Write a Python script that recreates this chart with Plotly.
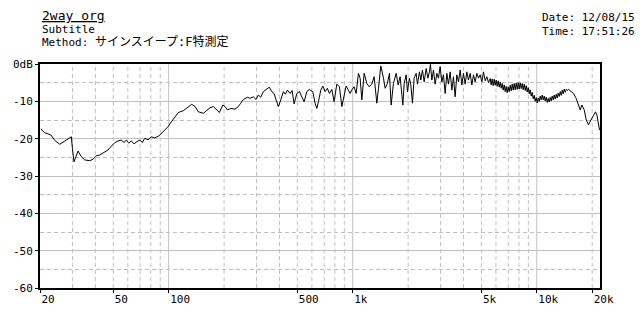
import plotly.graph_objects as go
import numpy as np

title = "2way org"
subtitle = "Subtitle"
method_label = "Method: "
method_value = "サインスイープ:F特測定"
date_txt = "Date: 12/08/15"
time_txt = "Time: 17:51:26"

# frequency response (Hz, dB)
freq_low = [20.2, 21.2, 22.9, 24.0, 25.6, 27.3, 29.6, 30.0, 30.6, 32.2, 33.5, 35.0, 37.3, 38.8,
            40.5, 42.2, 44.9, 46.9, 48.8, 50.9, 53.1, 55.3, 57.2, 58.9, 60.7, 62.7, 64.9, 67.1,
            69.7, 72.0, 74.2, 77.3, 80.5, 84.0, 88.3, 93.2, 99.2, 103.4, 108.8]
db_low = [-17.4, -18.4, -19.0, -20.4, -21.5, -20.6, -19.5, -22.6, -26.2, -23.3, -24.8, -25.7, -25.9, -25.5,
          -24.6, -24.4, -23.5, -23.0, -22.0, -21.1, -20.6, -20.4, -21.0, -20.4, -21.2, -20.6, -21.4, -20.8,
          -20.4, -21.0, -19.9, -20.3, -19.5, -19.8, -19.3, -18.1, -16.8, -15.5, -13.9]

freq_mid = [112.9, 120.2, 128.0, 133.5, 139.1, 145.0, 154.4, 161.1, 167.9, 175.0, 182.6, 188.6, 196.8,
            202.5, 208.4, 217.5, 229.6, 239.2, 246.5, 254.7, 267.8, 276.9, 288.5, 298.5, 307.2, 316.6,
            327.0, 341.2, 352.5, 363.2, 373.9, 383.4, 394.6, 406.6, 420.1, 430.7, 441.6, 456.8, 468.4,
            480.3, 496.9, 513.3, 529.0, 544.5, 563.0, 581.5, 586.7, 606.8, 624.6, 638.0, 650.9, 670.8,
            687.8, 707.9, 728.5, 747.0, 770.0, 792.4, 819.6, 846.6, 872.6, 898.1, 920.8, 947.6, 968.0,
            992.5, 1017.6, 1043.5, 1074, 1097, 1121, 1154, 1193, 1228, 1270, 1307, 1352, 1380, 1421,
            1469, 1500, 1544, 1583, 1617, 1664, 1722, 1765, 1810]
db_mid = [-13.0, -12.5, -11.4, -10.8, -11.4, -12.8, -13.2, -12.3, -11.7, -11.4, -12.3, -13.0, -11.0,
          -11.4, -12.3, -11.9, -12.1, -11.4, -10.5, -9.5, -8.9, -9.2, -8.8, -9.5, -8.3, -8.9,
          -7.4, -6.8, -6.2, -7.4, -7.9, -9.6, -11.4, -9.6, -7.4, -8.1, -7.0, -7.9, -7.1,
          -10.7, -7.9, -7.4, -8.8, -10.1, -7.4, -6.8, -7.0, -7.4, -10.5, -11.9, -10.1, -7.0,
          -5.9, -7.4, -6.5, -7.9, -6.8, -10.1, -5.4, -6.1, -11.4, -7.9, -5.9, -7.0, -7.9,
          -6.8, -6.1, -7.9, -2.5, -3.8, -9.6, -2.5, -5.2, -6.1, -5.4, -3.4, -10.5, -6.5, -0.5,
          -3.8, -6.5, -5.2, -2.5, -11.0, -5.2, -2.5, -5.6, -3.4]

freq_hi = [1849, 1872, 1903, 1951, 1983, 2033, 2069, 2111, 2156, 2211, 2247, 2304, 2345, 2392, 2444,
           2506, 2560, 2611, 2644, 2691, 2746, 2805, 2865, 2923, 2985, 3050, 3111, 3178, 3246, 3312,
           3383, 3456, 3526, 3601, 3679, 3754, 3834, 3916, 3996, 4082, 4169, 4254, 4345, 4439, 4529,
           4626, 4726, 4822, 4925, 5031, 5133, 5244, 5356, 5464]
db_hi = [-8.8, -11.0, -5.2, -2.9, -7.4, -3.8, -5.6, -10.5, -3.8, -2.5, -5.4, -2.1, -4.3, -1.6, -4.8,
         -1.2, -3.8, -2.1, -0.1, -4.3, -1.6, -5.4, -2.5, -3.8, -0.7, -4.8, -2.9, -7.9, -2.5, -5.4,
         -2.1, -7.0, -3.4, -8.8, -2.9, -4.8, -1.6, -5.6, -2.5, -5.4, -2.1, -4.3, -2.5, -5.6, -2.9,
         -4.8, -2.5, -3.8, -2.9, -4.8, -2.1, -4.5, -3.4, -5.0]

freq_dense = [5581, 5651, 5722, 5794, 5867, 5941, 6016, 6092, 6169, 6247, 6326, 6406, 6486, 6568,
              6651, 6735, 6820, 6906, 6993, 7081, 7170, 7260, 7351, 7444, 7538, 7633, 7729, 7826,
              7925, 8025, 8126, 8228, 8332, 8437, 8543, 8651, 8760, 8870, 8982, 9095, 9210, 9326,
              9443, 9562, 9682, 9804, 9928, 10053, 10179, 10307, 10437, 10569, 10702, 10837, 10973,
              11111, 11251, 11393, 11536, 11681, 11828, 11977, 12128, 12281, 12436, 12592, 12751,
              12911, 13074, 13239, 13405, 13574, 13745, 13918, 14093, 14271, 14450, 14632]
db_dense = [-3.9, -5.6, -4.0, -5.8, -4.1, -5.7, -4.3, -6.0, -4.5, -6.2, -4.8, -6.5, -5.2, -7.0,
            -5.6, -7.4, -6.0, -7.7, -6.1, -7.4, -5.7, -7.2, -5.4, -7.0, -5.2, -6.9, -5.1, -6.8,
            -5.0, -6.7, -5.0, -6.6, -5.2, -6.9, -5.4, -7.1, -5.8, -7.5, -6.3, -8.0, -6.9, -8.6,
            -7.6, -9.3, -8.4, -10.0, -9.0, -10.4, -9.1, -10.0, -8.6, -9.6, -8.3, -9.6, -8.6,
            -9.9, -8.9, -10.3, -9.2, -10.2, -8.9, -9.9, -8.6, -9.6, -8.3, -9.4, -8.1,
            -9.1, -7.8, -8.7, -7.4, -8.4, -7.0, -8.0, -6.7, -7.6, -6.8, -7.1]

freq_top = [14870, 15830, 16370, 16850, 17210, 17580, 18100, 18560, 19100, 19680, 20330, 20850,
            21220, 21640, 21920]
db_top = [-6.8, -7.9, -9.2, -11.0, -12.3, -11.0, -12.3, -15.0, -16.3, -15.0, -13.7, -12.8,
          -13.7, -16.8, -17.7]

freq = freq_low + freq_mid + freq_hi + freq_dense + freq_top
spl = db_low + db_mid + db_hi + db_dense + db_top

x_tick_vals = [20, 50, 100, 500, 1000, 5000, 10000, 20000]
x_tick_text = ["20", "50", "100", "500", "1k", "5k", "10k", "20k"]
y_tick_vals = [0, -10, -20, -30, -40, -50, -60]
y_tick_text = ["0dB", "-10", "-20", "-30", "-40", "-50", "-60"]
grid_major_x = [100, 1000, 10000]
grid_minor_x = [30, 40, 50, 60, 70, 80, 90, 200, 300, 400, 500, 600, 700, 800, 900,
                2000, 3000, 4000, 5000, 6000, 7000, 8000, 9000, 20000]

F_MAIN = "DejaVu Sans Mono, Noto Sans CJK JP, monospace"
GRID = "#c0c0c0"


def vlines(xs):
    X, Y = [], []
    for v in xs:
        X += [v, v, None]
        Y += [-60, 0, None]
    return X, Y


fig = go.Figure()
gx, gy = vlines(grid_minor_x)
fig.add_trace(go.Scatter(x=gx, y=gy, mode="lines", line=dict(color=GRID, width=1, dash="4px,3px"),
                         hoverinfo="skip", showlegend=False))
gx, gy = vlines(grid_major_x)
fig.add_trace(go.Scatter(x=gx, y=gy, mode="lines", line=dict(color=GRID, width=1),
                         hoverinfo="skip", showlegend=False))
fig.add_trace(go.Scatter(x=freq, y=spl, mode="lines", line=dict(color="black", width=1),
                         showlegend=False))

fig.update_layout(
    width=640, height=320,
    margin=dict(l=40, r=40, t=64, b=32),
    paper_bgcolor="white", plot_bgcolor="white",
    font=dict(family=F_MAIN, size=11, color="black"),
    xaxis=dict(type="log", range=[np.log10(20), np.log10(22050)],
               tickvals=x_tick_vals, ticktext=x_tick_text,
               ticks="outside", ticklen=3, tickcolor="black",
               ticklabelposition="outside right",
               showgrid=False, zeroline=False,
               showline=True, linecolor="black", linewidth=2, mirror=True,
               tickfont=dict(family=F_MAIN, size=11)),
    yaxis=dict(range=[-60, 0], tickvals=y_tick_vals, ticktext=y_tick_text,
               ticks="outside", ticklen=3, tickcolor="black",
               showgrid=True, gridcolor=GRID, gridwidth=1,
               minor=dict(dtick=5, showgrid=True, gridcolor=GRID, griddash="4px,3px", ticks=""),
               zeroline=False,
               showline=True, linecolor="black", linewidth=2, mirror=True,
               tickfont=dict(family=F_MAIN, size=11)),
)

fig.add_annotation(text="<u>" + title + "</u>", xref="paper", yref="paper", x=0, y=1,
                   xanchor="left", yanchor="bottom", yshift=39, showarrow=False,
                   font=dict(family=F_MAIN, size=13))
fig.add_annotation(text=subtitle, xref="paper", yref="paper", x=0, y=1,
                   xanchor="left", yanchor="bottom", yshift=26, showarrow=False,
                   font=dict(family=F_MAIN, size=11))
fig.add_annotation(text=method_label + "<span style='font-size:12px'>" + method_value + "</span>",
                   xref="paper", yref="paper", x=0, y=1,
                   xanchor="left", yanchor="bottom", yshift=13, showarrow=False,
                   font=dict(family=F_MAIN, size=11))
fig.add_annotation(text=date_txt + "<br>" + time_txt, xref="paper", yref="paper", x=500 / 560, y=1,
                   xanchor="left", yanchor="bottom", yshift=24, showarrow=False, align="left",
                   font=dict(family=F_MAIN, size=11))

fig.write_html("out.html")
